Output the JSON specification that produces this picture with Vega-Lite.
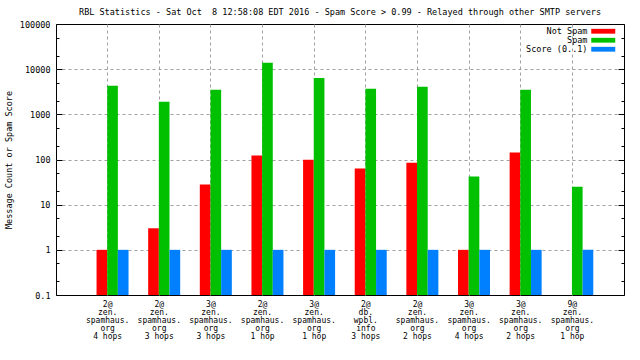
{
  "$schema": "https://vega.github.io/schema/vega-lite/v6.json",
  "autosize": {"type": "none"},
  "padding": {"left": 56, "top": 24, "right": 16, "bottom": 65},
  "width": 568,
  "height": 271,
  "background": "white",
  "title": {
    "text": "RBL Statistics - Sat Oct \u00a08 12:58:08 EDT 2016 - Spam Score > 0.99 - Relayed through other SMTP servers",
    "font": "DejaVu Sans Mono",
    "fontSize": 8.5,
    "fontWeight": "normal",
    "color": "black",
    "offset": 4,
    "anchor": "middle"
  },
  "config": {"view": {"stroke": "black", "strokeWidth": 1}, "font": "DejaVu Sans Mono"},
  "data": {
    "values": [
      {"host": "2@|zen.|spamhaus.|org|4 hops", "series": "Not Spam", "value": 1},
      {"host": "2@|zen.|spamhaus.|org|4 hops", "series": "Spam", "value": 4300},
      {"host": "2@|zen.|spamhaus.|org|4 hops", "series": "Score (0..1)", "value": 1},
      {"host": "2@|zen.|spamhaus.|org|3 hops", "series": "Not Spam", "value": 3},
      {"host": "2@|zen.|spamhaus.|org|3 hops", "series": "Spam", "value": 1900},
      {"host": "2@|zen.|spamhaus.|org|3 hops", "series": "Score (0..1)", "value": 1},
      {"host": "3@|zen.|spamhaus.|org|3 hops", "series": "Not Spam", "value": 28},
      {"host": "3@|zen.|spamhaus.|org|3 hops", "series": "Spam", "value": 3500},
      {"host": "3@|zen.|spamhaus.|org|3 hops", "series": "Score (0..1)", "value": 1},
      {"host": "2@|zen.|spamhaus.|org|1 hop", "series": "Not Spam", "value": 122},
      {"host": "2@|zen.|spamhaus.|org|1 hop", "series": "Spam", "value": 13900},
      {"host": "2@|zen.|spamhaus.|org|1 hop", "series": "Score (0..1)", "value": 1},
      {"host": "3@|zen.|spamhaus.|org|1 hop", "series": "Not Spam", "value": 99},
      {"host": "3@|zen.|spamhaus.|org|1 hop", "series": "Spam", "value": 6400},
      {"host": "3@|zen.|spamhaus.|org|1 hop", "series": "Score (0..1)", "value": 1},
      {"host": "2@|db.|wpbl.|info|3 hops", "series": "Not Spam", "value": 63},
      {"host": "2@|db.|wpbl.|info|3 hops", "series": "Spam", "value": 3700},
      {"host": "2@|db.|wpbl.|info|3 hops", "series": "Score (0..1)", "value": 1},
      {"host": "2@|zen.|spamhaus.|org|2 hops", "series": "Not Spam", "value": 85},
      {"host": "2@|zen.|spamhaus.|org|2 hops", "series": "Spam", "value": 4100},
      {"host": "2@|zen.|spamhaus.|org|2 hops", "series": "Score (0..1)", "value": 1},
      {"host": "3@|zen.|spamhaus.|org|4 hops", "series": "Not Spam", "value": 1},
      {"host": "3@|zen.|spamhaus.|org|4 hops", "series": "Spam", "value": 42},
      {"host": "3@|zen.|spamhaus.|org|4 hops", "series": "Score (0..1)", "value": 1},
      {"host": "3@|zen.|spamhaus.|org|2 hops", "series": "Not Spam", "value": 142},
      {"host": "3@|zen.|spamhaus.|org|2 hops", "series": "Spam", "value": 3500},
      {"host": "3@|zen.|spamhaus.|org|2 hops", "series": "Score (0..1)", "value": 1},
      {"host": "9@|zen.|spamhaus.|org|1 hop", "series": "Spam", "value": 25},
      {"host": "9@|zen.|spamhaus.|org|1 hop", "series": "Score (0..1)", "value": 1}
    ]
  },
  "encoding": {
    "x": {
      "field": "host",
      "type": "nominal",
      "sort": null,
      "scale": {"paddingInner": 0, "paddingOuter": 0.5},
      "axis": {
        "title": null,
        "labelExpr": "split(datum.label, '|')",
        "labelAngle": 0,
        "labelAlign": "center",
        "labelBaseline": "top",
        "labelFont": "DejaVu Sans Mono",
        "labelFontSize": 8,
        "labelLineHeight": 8,
        "labelColor": "black",
        "labelPadding": 5,
        "ticks": false,
        "domain": false,
        "grid": true,
        "gridColor": "#a0a0a0",
        "gridDash": [3, 3],
        "gridWidth": 1
      }
    },
    "xOffset": {
      "field": "series",
      "type": "nominal",
      "sort": ["Not Spam", "Spam", "Score (0..1)"],
      "scale": {"paddingInner": 0, "paddingOuter": 0.92, "align": 0.75}
    }
  },
  "layer": [
    {
      "mark": {"type": "bar"},
      "encoding": {
        "y": {
          "field": "value",
          "type": "quantitative",
          "stack": null,
          "scale": {"type": "log", "domain": [0.1, 100000], "nice": false},
          "axis": {
            "title": "Message Count or Spam Score",
            "titleFont": "DejaVu Sans Mono",
            "titleFontSize": 8.5,
            "titleFontWeight": "normal",
            "titleColor": "black",
            "titlePadding": 6,
            "values": [0.1, 0.2, 0.5, 1, 2, 5, 10, 20, 50, 100, 200, 500, 1000, 2000, 5000, 10000, 20000, 50000, 100000],
            "labelExpr": "abs(log(datum.value)/LN10 - round(log(datum.value)/LN10)) > 0.01 ? '' : (datum.value < 1 ? '0.1' : format(datum.value, 'd'))",
            "labelFont": "DejaVu Sans Mono",
            "labelFontSize": 8.5,
            "labelColor": "black",
            "labelPadding": 12,
            "tickColor": "black",
            "tickSize": {"condition": {"test": "abs(log(datum.value)/LN10 - round(log(datum.value)/LN10)) > 0.01", "value": -3}, "value": -6},
            "domain": false,
            "grid": true,
            "gridColor": "#a0a0a0",
            "gridDash": [3, 3],
            "gridOpacity": {"condition": {"test": "abs(log(datum.value)/LN10 - round(log(datum.value)/LN10)) > 0.01 || datum.value < 0.5 || datum.value > 50000", "value": 0}, "value": 1}
          }
        },
        "color": {
          "field": "series",
          "type": "nominal",
          "sort": ["Not Spam", "Spam", "Score (0..1)"],
          "scale": {"domain": ["Not Spam", "Spam", "Score (0..1)"], "range": ["#ff0000", "#00c000", "#0080ff"]},
          "legend": {
            "orient": "none",
            "legendX": 543,
            "legendY": 3,
            "title": null,
            "padding": 0,
            "fillColor": "white",
            "labelFont": "DejaVu Sans Mono",
            "labelFontSize": 8.5,
            "labelColor": "black",
            "symbolType": "M-3,-0.6H3V0.6H-3Z",
            "symbolSize": 64,
            "symbolStrokeWidth": 0,
            "symbolOpacity": 1,
            "labelAlign": "right",
            "labelOffset": -20,
            "rowPadding": 0
          }
        }
      }
    },
    {
      "mark": {"type": "bar", "opacity": 0},
      "encoding": {
        "y": {
          "field": "value",
          "type": "quantitative",
          "stack": null,
          "axis": {
            "orient": "right",
            "title": null,
            "labels": false,
            "values": [0.1, 0.2, 0.5, 1, 2, 5, 10, 20, 50, 100, 200, 500, 1000, 2000, 5000, 10000, 20000, 50000, 100000],
            "tickColor": "black",
            "tickSize": {"condition": {"test": "abs(log(datum.value)/LN10 - round(log(datum.value)/LN10)) > 0.01", "value": -3}, "value": -6},
            "domain": false,
            "grid": false
          }
        }
      }
    }
  ],
  "resolve": {"axis": {"y": "independent"}}
}
